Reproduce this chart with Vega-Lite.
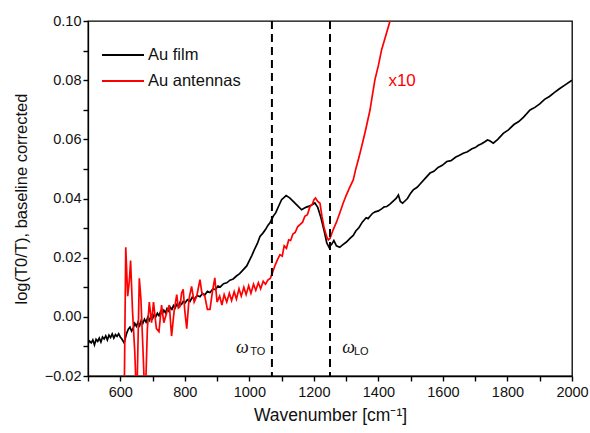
{
  "$schema": "https://vega.github.io/schema/vega-lite/v6.json",
  "width": 484,
  "height": 355,
  "autosize": {"type": "none"},
  "padding": {"left": 88, "top": 21, "right": 18, "bottom": 57},
  "background": "white",
  "config": {
    "view": {"stroke": "black", "strokeWidth": 1.3},
    "font": "Liberation Sans",
    "axis": {"domain": true, "domainColor": "#000000", "domainWidth": 1.3, "grid": false, "ticks": true, "tickColor": "#000000", "tickWidth": 1.4, "tickSize": 5, "labelColor": "#111", "labelFont": "Liberation Sans", "labelFontSize": 14.5, "titleFont": "Liberation Sans", "titleFontSize": 16.5, "titleFontWeight": "normal", "titleColor": "#111"}
  },
  "datasets": {
    "spectra": [
      {"series": "Au film", "wn": 500, "v": -0.009},
      {"series": "Au film", "wn": 505, "v": -0.0082},
      {"series": "Au film", "wn": 510, "v": -0.0088},
      {"series": "Au film", "wn": 515, "v": -0.0078},
      {"series": "Au film", "wn": 520, "v": -0.0095},
      {"series": "Au film", "wn": 525, "v": -0.0076},
      {"series": "Au film", "wn": 530, "v": -0.0083},
      {"series": "Au film", "wn": 535, "v": -0.0072},
      {"series": "Au film", "wn": 540, "v": -0.0085},
      {"series": "Au film", "wn": 545, "v": -0.0068},
      {"series": "Au film", "wn": 550, "v": -0.0075},
      {"series": "Au film", "wn": 555, "v": -0.0064},
      {"series": "Au film", "wn": 560, "v": -0.0078},
      {"series": "Au film", "wn": 565, "v": -0.0062},
      {"series": "Au film", "wn": 570, "v": -0.007},
      {"series": "Au film", "wn": 575, "v": -0.0058},
      {"series": "Au film", "wn": 580, "v": -0.0072},
      {"series": "Au film", "wn": 585, "v": -0.006},
      {"series": "Au film", "wn": 590, "v": -0.0066},
      {"series": "Au film", "wn": 595, "v": -0.0057},
      {"series": "Au film", "wn": 600, "v": -0.0068},
      {"series": "Au film", "wn": 605, "v": -0.0075},
      {"series": "Au film", "wn": 612, "v": -0.0088},
      {"series": "Au film", "wn": 620, "v": -0.0055},
      {"series": "Au film", "wn": 625, "v": -0.0042},
      {"series": "Au film", "wn": 630, "v": -0.0035},
      {"series": "Au film", "wn": 635, "v": -0.0048},
      {"series": "Au film", "wn": 640, "v": -0.0038},
      {"series": "Au film", "wn": 645, "v": -0.0022},
      {"series": "Au film", "wn": 650, "v": -0.0032},
      {"series": "Au film", "wn": 655, "v": -0.0018},
      {"series": "Au film", "wn": 660, "v": -0.003},
      {"series": "Au film", "wn": 665, "v": -0.0012},
      {"series": "Au film", "wn": 670, "v": -0.0022},
      {"series": "Au film", "wn": 675, "v": -0.0008},
      {"series": "Au film", "wn": 680, "v": -0.0018},
      {"series": "Au film", "wn": 685, "v": -0.0002},
      {"series": "Au film", "wn": 690, "v": -0.0012},
      {"series": "Au film", "wn": 695, "v": 0.0002},
      {"series": "Au film", "wn": 700, "v": -0.0006},
      {"series": "Au film", "wn": 705, "v": 0.0008},
      {"series": "Au film", "wn": 710, "v": 0.0},
      {"series": "Au film", "wn": 715, "v": 0.0012},
      {"series": "Au film", "wn": 720, "v": 0.0004},
      {"series": "Au film", "wn": 725, "v": 0.0018},
      {"series": "Au film", "wn": 730, "v": 0.001},
      {"series": "Au film", "wn": 735, "v": 0.0022},
      {"series": "Au film", "wn": 740, "v": 0.0014},
      {"series": "Au film", "wn": 745, "v": 0.0028},
      {"series": "Au film", "wn": 750, "v": 0.002},
      {"series": "Au film", "wn": 755, "v": 0.0032},
      {"series": "Au film", "wn": 760, "v": 0.0025},
      {"series": "Au film", "wn": 765, "v": 0.0038},
      {"series": "Au film", "wn": 770, "v": 0.003},
      {"series": "Au film", "wn": 775, "v": 0.0042},
      {"series": "Au film", "wn": 780, "v": 0.0036},
      {"series": "Au film", "wn": 785, "v": 0.0048},
      {"series": "Au film", "wn": 790, "v": 0.0042},
      {"series": "Au film", "wn": 795, "v": 0.0052},
      {"series": "Au film", "wn": 800, "v": 0.0046},
      {"series": "Au film", "wn": 808, "v": 0.0058},
      {"series": "Au film", "wn": 816, "v": 0.0052},
      {"series": "Au film", "wn": 823, "v": 0.0066},
      {"series": "Au film", "wn": 830, "v": 0.006},
      {"series": "Au film", "wn": 838, "v": 0.0072},
      {"series": "Au film", "wn": 847, "v": 0.0068},
      {"series": "Au film", "wn": 855, "v": 0.0079},
      {"series": "Au film", "wn": 862, "v": 0.0074},
      {"series": "Au film", "wn": 870, "v": 0.0086},
      {"series": "Au film", "wn": 878, "v": 0.0082},
      {"series": "Au film", "wn": 887, "v": 0.0094},
      {"series": "Au film", "wn": 895, "v": 0.0092},
      {"series": "Au film", "wn": 903, "v": 0.0104},
      {"series": "Au film", "wn": 910, "v": 0.0101},
      {"series": "Au film", "wn": 920, "v": 0.0112},
      {"series": "Au film", "wn": 930, "v": 0.0115},
      {"series": "Au film", "wn": 940, "v": 0.0124},
      {"series": "Au film", "wn": 950, "v": 0.0128},
      {"series": "Au film", "wn": 960, "v": 0.0138},
      {"series": "Au film", "wn": 970, "v": 0.0146},
      {"series": "Au film", "wn": 980, "v": 0.0158},
      {"series": "Au film", "wn": 992, "v": 0.0172},
      {"series": "Au film", "wn": 1000, "v": 0.019},
      {"series": "Au film", "wn": 1008, "v": 0.0208},
      {"series": "Au film", "wn": 1016, "v": 0.0228},
      {"series": "Au film", "wn": 1025, "v": 0.0248},
      {"series": "Au film", "wn": 1033, "v": 0.0272},
      {"series": "Au film", "wn": 1042, "v": 0.0283},
      {"series": "Au film", "wn": 1050, "v": 0.0295},
      {"series": "Au film", "wn": 1058, "v": 0.031},
      {"series": "Au film", "wn": 1064, "v": 0.0318},
      {"series": "Au film", "wn": 1074, "v": 0.034},
      {"series": "Au film", "wn": 1082, "v": 0.0352},
      {"series": "Au film", "wn": 1090, "v": 0.0372},
      {"series": "Au film", "wn": 1100, "v": 0.0396},
      {"series": "Au film", "wn": 1114, "v": 0.041},
      {"series": "Au film", "wn": 1125, "v": 0.0402},
      {"series": "Au film", "wn": 1136, "v": 0.039},
      {"series": "Au film", "wn": 1150, "v": 0.0375},
      {"series": "Au film", "wn": 1162, "v": 0.0362},
      {"series": "Au film", "wn": 1175, "v": 0.037},
      {"series": "Au film", "wn": 1188, "v": 0.0375},
      {"series": "Au film", "wn": 1203, "v": 0.0385},
      {"series": "Au film", "wn": 1212, "v": 0.037},
      {"series": "Au film", "wn": 1222, "v": 0.0335},
      {"series": "Au film", "wn": 1232, "v": 0.029},
      {"series": "Au film", "wn": 1240, "v": 0.025},
      {"series": "Au film", "wn": 1247, "v": 0.0235},
      {"series": "Au film", "wn": 1255, "v": 0.0245},
      {"series": "Au film", "wn": 1262, "v": 0.0258},
      {"series": "Au film", "wn": 1270, "v": 0.024},
      {"series": "Au film", "wn": 1280, "v": 0.0235},
      {"series": "Au film", "wn": 1290, "v": 0.0244},
      {"series": "Au film", "wn": 1300, "v": 0.0252},
      {"series": "Au film", "wn": 1312, "v": 0.0265},
      {"series": "Au film", "wn": 1322, "v": 0.0275},
      {"series": "Au film", "wn": 1330, "v": 0.029},
      {"series": "Au film", "wn": 1340, "v": 0.0302},
      {"series": "Au film", "wn": 1350, "v": 0.032},
      {"series": "Au film", "wn": 1362, "v": 0.0335},
      {"series": "Au film", "wn": 1368, "v": 0.0332},
      {"series": "Au film", "wn": 1374, "v": 0.034},
      {"series": "Au film", "wn": 1382, "v": 0.035},
      {"series": "Au film", "wn": 1390, "v": 0.0355},
      {"series": "Au film", "wn": 1400, "v": 0.0358},
      {"series": "Au film", "wn": 1410, "v": 0.0365},
      {"series": "Au film", "wn": 1418, "v": 0.0372},
      {"series": "Au film", "wn": 1426, "v": 0.0373},
      {"series": "Au film", "wn": 1435, "v": 0.038},
      {"series": "Au film", "wn": 1445, "v": 0.039},
      {"series": "Au film", "wn": 1455, "v": 0.04},
      {"series": "Au film", "wn": 1462, "v": 0.0412},
      {"series": "Au film", "wn": 1468, "v": 0.039},
      {"series": "Au film", "wn": 1475, "v": 0.0384},
      {"series": "Au film", "wn": 1490, "v": 0.04},
      {"series": "Au film", "wn": 1500, "v": 0.0418},
      {"series": "Au film", "wn": 1508, "v": 0.0429},
      {"series": "Au film", "wn": 1520, "v": 0.0438},
      {"series": "Au film", "wn": 1530, "v": 0.045},
      {"series": "Au film", "wn": 1545, "v": 0.0468},
      {"series": "Au film", "wn": 1560, "v": 0.0486},
      {"series": "Au film", "wn": 1572, "v": 0.0492},
      {"series": "Au film", "wn": 1585, "v": 0.0505},
      {"series": "Au film", "wn": 1598, "v": 0.0512},
      {"series": "Au film", "wn": 1612, "v": 0.0525},
      {"series": "Au film", "wn": 1625, "v": 0.0528},
      {"series": "Au film", "wn": 1640, "v": 0.054},
      {"series": "Au film", "wn": 1650, "v": 0.0545},
      {"series": "Au film", "wn": 1663, "v": 0.0553},
      {"series": "Au film", "wn": 1676, "v": 0.0558},
      {"series": "Au film", "wn": 1690, "v": 0.0568},
      {"series": "Au film", "wn": 1700, "v": 0.0572},
      {"series": "Au film", "wn": 1710, "v": 0.058},
      {"series": "Au film", "wn": 1720, "v": 0.0585},
      {"series": "Au film", "wn": 1730, "v": 0.0592},
      {"series": "Au film", "wn": 1738, "v": 0.0598},
      {"series": "Au film", "wn": 1745, "v": 0.0595},
      {"series": "Au film", "wn": 1756, "v": 0.0587},
      {"series": "Au film", "wn": 1770, "v": 0.06},
      {"series": "Au film", "wn": 1787, "v": 0.062},
      {"series": "Au film", "wn": 1803, "v": 0.0632},
      {"series": "Au film", "wn": 1820, "v": 0.065},
      {"series": "Au film", "wn": 1835, "v": 0.066},
      {"series": "Au film", "wn": 1850, "v": 0.0675},
      {"series": "Au film", "wn": 1870, "v": 0.0699},
      {"series": "Au film", "wn": 1885, "v": 0.0708},
      {"series": "Au film", "wn": 1900, "v": 0.072},
      {"series": "Au film", "wn": 1915, "v": 0.0735},
      {"series": "Au film", "wn": 1930, "v": 0.0745},
      {"series": "Au film", "wn": 1945, "v": 0.0758},
      {"series": "Au film", "wn": 1960, "v": 0.077},
      {"series": "Au film", "wn": 1980, "v": 0.0785},
      {"series": "Au film", "wn": 2000, "v": 0.08},
      {"series": "Au antennas", "wn": 612, "v": -0.03},
      {"series": "Au antennas", "wn": 617, "v": 0.0235},
      {"series": "Au antennas", "wn": 623, "v": 0.007},
      {"series": "Au antennas", "wn": 628, "v": 0.012},
      {"series": "Au antennas", "wn": 632, "v": 0.019},
      {"series": "Au antennas", "wn": 638, "v": 0.002},
      {"series": "Au antennas", "wn": 645, "v": -0.012},
      {"series": "Au antennas", "wn": 651, "v": -0.03},
      {"series": "Au antennas", "wn": 659, "v": 0.013},
      {"series": "Au antennas", "wn": 664, "v": 0.006},
      {"series": "Au antennas", "wn": 670, "v": -0.01},
      {"series": "Au antennas", "wn": 677, "v": -0.03},
      {"series": "Au antennas", "wn": 684, "v": -0.004},
      {"series": "Au antennas", "wn": 690, "v": 0.005},
      {"series": "Au antennas", "wn": 697, "v": -0.002},
      {"series": "Au antennas", "wn": 703, "v": 0.005},
      {"series": "Au antennas", "wn": 712, "v": -0.004},
      {"series": "Au antennas", "wn": 720, "v": -0.005},
      {"series": "Au antennas", "wn": 728, "v": 0.004},
      {"series": "Au antennas", "wn": 735, "v": -0.002},
      {"series": "Au antennas", "wn": 744, "v": 0.0015},
      {"series": "Au antennas", "wn": 752, "v": 0.004},
      {"series": "Au antennas", "wn": 759, "v": -0.0065},
      {"series": "Au antennas", "wn": 767, "v": 0.002},
      {"series": "Au antennas", "wn": 775, "v": 0.0075},
      {"series": "Au antennas", "wn": 780, "v": 0.003},
      {"series": "Au antennas", "wn": 785, "v": 0.0035},
      {"series": "Au antennas", "wn": 790, "v": 0.008},
      {"series": "Au antennas", "wn": 795, "v": 0.0093},
      {"series": "Au antennas", "wn": 800, "v": 0.002},
      {"series": "Au antennas", "wn": 806, "v": -0.004},
      {"series": "Au antennas", "wn": 813, "v": 0.006},
      {"series": "Au antennas", "wn": 821, "v": 0.0103},
      {"series": "Au antennas", "wn": 829, "v": 0.005},
      {"series": "Au antennas", "wn": 837, "v": 0.007},
      {"series": "Au antennas", "wn": 847, "v": 0.0126},
      {"series": "Au antennas", "wn": 853, "v": 0.008},
      {"series": "Au antennas", "wn": 862, "v": 0.007},
      {"series": "Au antennas", "wn": 870, "v": 0.0025},
      {"series": "Au antennas", "wn": 878, "v": 0.0025},
      {"series": "Au antennas", "wn": 885, "v": 0.008},
      {"series": "Au antennas", "wn": 893, "v": 0.0132},
      {"series": "Au antennas", "wn": 900, "v": 0.005},
      {"series": "Au antennas", "wn": 908, "v": 0.007},
      {"series": "Au antennas", "wn": 915, "v": 0.004},
      {"series": "Au antennas", "wn": 922, "v": 0.0075},
      {"series": "Au antennas", "wn": 930, "v": 0.005},
      {"series": "Au antennas", "wn": 938, "v": 0.008},
      {"series": "Au antennas", "wn": 945, "v": 0.0055},
      {"series": "Au antennas", "wn": 953, "v": 0.0085},
      {"series": "Au antennas", "wn": 960, "v": 0.006},
      {"series": "Au antennas", "wn": 968, "v": 0.0095},
      {"series": "Au antennas", "wn": 975, "v": 0.007},
      {"series": "Au antennas", "wn": 983, "v": 0.01},
      {"series": "Au antennas", "wn": 990, "v": 0.0075},
      {"series": "Au antennas", "wn": 998, "v": 0.0105},
      {"series": "Au antennas", "wn": 1005, "v": 0.008},
      {"series": "Au antennas", "wn": 1013, "v": 0.011},
      {"series": "Au antennas", "wn": 1020, "v": 0.009},
      {"series": "Au antennas", "wn": 1028, "v": 0.0115},
      {"series": "Au antennas", "wn": 1035, "v": 0.0095},
      {"series": "Au antennas", "wn": 1043, "v": 0.012},
      {"series": "Au antennas", "wn": 1050, "v": 0.011},
      {"series": "Au antennas", "wn": 1058, "v": 0.0125},
      {"series": "Au antennas", "wn": 1065, "v": 0.013},
      {"series": "Au antennas", "wn": 1072, "v": 0.015},
      {"series": "Au antennas", "wn": 1080, "v": 0.0175},
      {"series": "Au antennas", "wn": 1088, "v": 0.0195},
      {"series": "Au antennas", "wn": 1095, "v": 0.021},
      {"series": "Au antennas", "wn": 1102, "v": 0.0205},
      {"series": "Au antennas", "wn": 1108, "v": 0.024},
      {"series": "Au antennas", "wn": 1115, "v": 0.0232},
      {"series": "Au antennas", "wn": 1122, "v": 0.026},
      {"series": "Au antennas", "wn": 1128, "v": 0.0258},
      {"series": "Au antennas", "wn": 1135, "v": 0.028},
      {"series": "Au antennas", "wn": 1142, "v": 0.0285},
      {"series": "Au antennas", "wn": 1150, "v": 0.0305},
      {"series": "Au antennas", "wn": 1157, "v": 0.0312},
      {"series": "Au antennas", "wn": 1165, "v": 0.032},
      {"series": "Au antennas", "wn": 1172, "v": 0.034},
      {"series": "Au antennas", "wn": 1180, "v": 0.0345},
      {"series": "Au antennas", "wn": 1188, "v": 0.0373},
      {"series": "Au antennas", "wn": 1195, "v": 0.038},
      {"series": "Au antennas", "wn": 1200, "v": 0.0395},
      {"series": "Au antennas", "wn": 1205, "v": 0.0402},
      {"series": "Au antennas", "wn": 1212, "v": 0.039},
      {"series": "Au antennas", "wn": 1219, "v": 0.0384},
      {"series": "Au antennas", "wn": 1225, "v": 0.034},
      {"series": "Au antennas", "wn": 1232, "v": 0.03},
      {"series": "Au antennas", "wn": 1240, "v": 0.027},
      {"series": "Au antennas", "wn": 1245, "v": 0.026},
      {"series": "Au antennas", "wn": 1250, "v": 0.0265},
      {"series": "Au antennas", "wn": 1255, "v": 0.028},
      {"series": "Au antennas", "wn": 1260, "v": 0.0295},
      {"series": "Au antennas", "wn": 1270, "v": 0.032},
      {"series": "Au antennas", "wn": 1280, "v": 0.035},
      {"series": "Au antennas", "wn": 1291, "v": 0.0385},
      {"series": "Au antennas", "wn": 1300, "v": 0.041},
      {"series": "Au antennas", "wn": 1310, "v": 0.0435},
      {"series": "Au antennas", "wn": 1322, "v": 0.0463},
      {"series": "Au antennas", "wn": 1330, "v": 0.05},
      {"series": "Au antennas", "wn": 1340, "v": 0.054},
      {"series": "Au antennas", "wn": 1353, "v": 0.0598},
      {"series": "Au antennas", "wn": 1360, "v": 0.063},
      {"series": "Au antennas", "wn": 1374, "v": 0.0699},
      {"series": "Au antennas", "wn": 1380, "v": 0.074},
      {"series": "Au antennas", "wn": 1389, "v": 0.08},
      {"series": "Au antennas", "wn": 1400, "v": 0.085},
      {"series": "Au antennas", "wn": 1410, "v": 0.0903},
      {"series": "Au antennas", "wn": 1420, "v": 0.094},
      {"series": "Au antennas", "wn": 1436, "v": 0.1},
      {"series": "Au antennas", "wn": 1450, "v": 0.107}
    ],
    "modes": [{"wn": 1070}, {"wn": 1250}],
    "omega": [{"wn": 959, "v": -0.0123, "t": "ω"}, {"wn": 1288, "v": -0.0123, "t": "ω"}],
    "subs": [{"wn": 1003, "v": -0.013, "t": "TO"}, {"wn": 1324, "v": -0.013, "t": "LO"}],
    "scale": [{"wn": 1431, "v": 0.078, "t": "x10"}]
  },
  "layer": [
    {
      "data": {"name": "spectra"},
      "mark": {"type": "line", "strokeWidth": 1.7, "clip": true},
      "encoding": {
        "x": {
          "field": "wn", "type": "quantitative",
          "scale": {"domain": [500, 2000], "nice": false, "zero": false},
          "axis": {
            "orient": "bottom", "title": "Wavenumber [cm⁻¹]", "titlePadding": 8, "titleFontSize": 17.5,
            "values": [500, 600, 700, 800, 900, 1000, 1100, 1200, 1300, 1400, 1500, 1600, 1700, 1800, 1900, 2000],
            "labelExpr": "datum.value % 200 === 0 && datum.value > 500 ? format(datum.value, 'd') : ''",
            "labelPadding": 4, "labelFlush": false, "labelOverlap": false
          }
        },
        "y": {
          "field": "v", "type": "quantitative",
          "scale": {"domain": [-0.02, 0.1], "nice": false, "zero": false},
          "axis": {
            "orient": "left", "title": "log(T0/T), baseline corrected", "titlePadding": 15,
            "values": [-0.02, -0.01, 0, 0.01, 0.02, 0.03, 0.04, 0.05, 0.06, 0.07, 0.08, 0.09, 0.1],
            "labelExpr": "round(datum.value * 100) % 2 === 0 ? format(datum.value, '.2f') : ''",
            "labelPadding": 2, "labelFlush": false, "labelOverlap": false
          }
        },
        "color": {
          "field": "series", "type": "nominal",
          "scale": {"domain": ["Au film", "Au antennas"], "range": ["#000000", "#ff0000"]},
          "legend": {
            "orient": "none", "legendX": 13, "legendY": 24, "title": null,
            "symbolType": "stroke", "symbolSize": 1764, "symbolStrokeWidth": 2,
            "labelFontSize": 16.5, "labelFont": "Liberation Sans", "labelColor": "#111",
            "labelOffset": 3, "clipHeight": 20, "rowPadding": 6
          }
        }
      }
    },
    {
      "data": {"name": "modes"},
      "mark": {"type": "rule", "color": "black", "strokeWidth": 2, "strokeDash": [8, 5]},
      "encoding": {
        "x": {"field": "wn", "type": "quantitative", "axis": null}
      }
    },
    {
      "data": {"name": "omega"},
      "mark": {"type": "text", "font": "Liberation Serif", "fontStyle": "italic", "fontSize": 18, "align": "left", "baseline": "alphabetic", "color": "#111"},
      "encoding": {
        "x": {"field": "wn", "type": "quantitative", "axis": null},
        "y": {"field": "v", "type": "quantitative", "axis": null},
        "text": {"field": "t"}
      }
    },
    {
      "data": {"name": "subs"},
      "mark": {"type": "text", "font": "Liberation Sans", "fontSize": 11, "align": "left", "baseline": "alphabetic", "color": "#111"},
      "encoding": {
        "x": {"field": "wn", "type": "quantitative", "axis": null},
        "y": {"field": "v", "type": "quantitative", "axis": null},
        "text": {"field": "t"}
      }
    },
    {
      "data": {"name": "scale"},
      "mark": {"type": "text", "font": "Liberation Sans", "fontSize": 17, "align": "left", "baseline": "alphabetic", "color": "#ff0000"},
      "encoding": {
        "x": {"field": "wn", "type": "quantitative", "axis": null},
        "y": {"field": "v", "type": "quantitative", "axis": null},
        "text": {"field": "t"}
      }
    }
  ],
  "resolve": {"axis": {"x": "independent", "y": "independent"}}
}
